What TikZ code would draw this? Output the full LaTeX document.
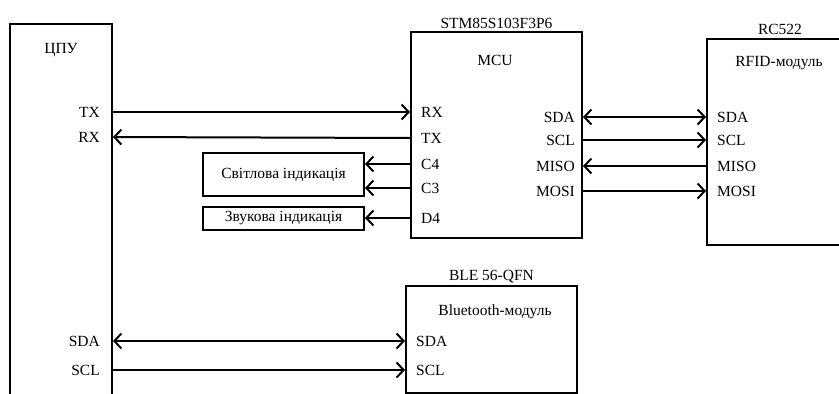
\documentclass[tikz,border=0pt]{standalone}
\usepackage{fontspec}
\setmainfont{Liberation Serif}
\usetikzlibrary{arrows.meta,positioning}
\newcommand\schfont{\fontsize{15.5}{18}\selectfont}
\tikzset{
  blk/.style={draw,line width=2pt,anchor=north west,inner sep=0pt},
  ind/.style={draw,line width=2pt,minimum width=161pt,font=\schfont,inner sep=0pt},
  txt/.style={font=\schfont,inner sep=1pt},
  pinl/.style={txt,anchor=west},
  pinr/.style={txt,anchor=east},
  arr/.style={-{Straight Barb[length=7pt,width=15pt]},line width=2pt},
  barr/.style={{Straight Barb[length=7pt,width=15pt]}-{Straight Barb[length=7pt,width=15pt]},line width=2pt},
}
\begin{document}
\begin{tikzpicture}[x=1pt,y=-1pt]
  \clip (0,0) rectangle (839,394);
  % blocks
  \node[blk,minimum width=102pt,minimum height=420pt] (cpu) at (9,23) {};
  \node[blk,minimum width=171pt,minimum height=206pt] (mcu) at (410,31) {};
  \node[blk,minimum width=146pt,minimum height=206pt] (rfid) at (706,38) {};
  \node[blk,minimum width=171pt,minimum height=107pt] (ble) at (405,285) {};
  \node[ind,minimum height=43pt] (light) at (283.5,174.5) {Світлова індикація};
  \node[ind,minimum height=23pt] (sound) at (283.5,218.5) {Звукова індикація};
  \node[txt,above=1pt of mcu] (mcut) {STM85S103F3P6};
  \node[txt,above=2pt of rfid] (rfidt) {RC522};
  \node[txt,above=1pt of ble] (blet) {BLE 56-QFN};
  \node[txt] (cpun) at (61,50) {ЦПУ};
  \node[txt] (mcun) at (495,60) {MCU};
  \node[txt] (rfidn) at (779,63) {RFID-модуль};
  \node[txt] (blen) at (495,312) {Bluetooth-модуль};
  % pins
  \node[pinr] (cputx) at (101,112) {TX};
  \node[pinr] (cpurx) at (101,137) {RX};
  \node[pinr] (cpusda) at (101,341) {SDA};
  \node[pinr] (cpuscl) at (101,370) {SCL};
  \node[pinl] (mcurx) at (420,112) {RX};
  \node[pinl] (mcutx) at (420,138) {TX};
  \node[pinl] (mcuca) at (420,164) {C4};
  \node[pinl] (mcucb) at (420,188) {C3};
  \node[pinl] (mcud) at (420,218) {D4};
  \node[pinr] (mcusda) at (576,117) {SDA};
  \node[pinr] (mcuscl) at (576,140) {SCL};
  \node[pinr] (mcumiso) at (576,166) {MISO};
  \node[pinr] (mcumosi) at (576,191) {MOSI};
  \node[pinl] (rfidsda) at (716,117) {SDA};
  \node[pinl] (rfidscl) at (716,140) {SCL};
  \node[pinl] (rfidmiso) at (716,166) {MISO};
  \node[pinl] (rfidmosi) at (716,191) {MOSI};
  \node[pinl] (blesda) at (415,341) {SDA};
  \node[pinl] (blescl) at (415,370) {SCL};
  % links
  \draw[arr] (cpu.east |- cputx) -- (mcu.west |- mcurx);
  \draw[arr] (mcu.west |- mcutx) -- (cpu.east |- cpurx);
  \draw[arr] (mcu.west |- mcuca) -- (light.east |- mcuca);
  \draw[arr] (mcu.west |- mcucb) -- (light.east |- mcucb);
  \draw[arr] (mcu.west |- mcud) -- (sound.east |- mcud);
  \draw[barr] (mcu.east |- mcusda) -- (rfid.west |- rfidsda);
  \draw[arr] (mcu.east |- mcuscl) -- (rfid.west |- rfidscl);
  \draw[arr] (rfid.west |- rfidmiso) -- (mcu.east |- mcumiso);
  \draw[arr] (mcu.east |- mcumosi) -- (rfid.west |- rfidmosi);
  \draw[barr] (cpu.east |- cpusda) -- (ble.west |- blesda);
  \draw[arr] (cpu.east |- cpuscl) -- (ble.west |- blescl);
\end{tikzpicture}
\end{document}
